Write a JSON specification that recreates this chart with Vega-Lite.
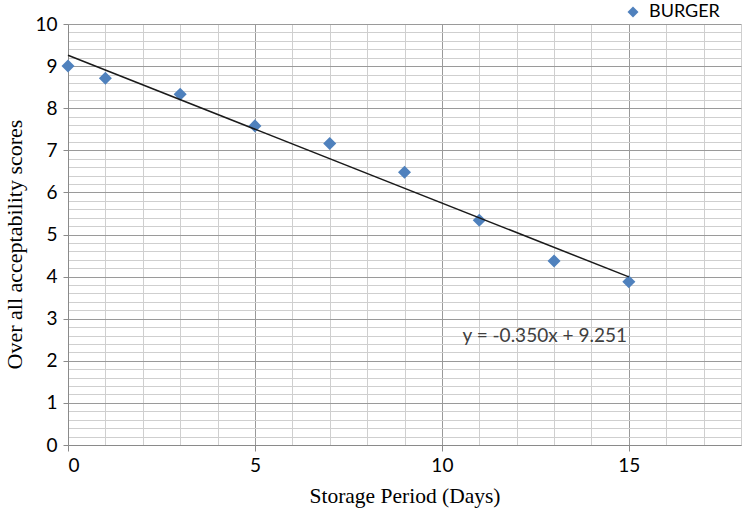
{
  "$schema": "https://vega.github.io/schema/vega-lite/v6.json",
  "autosize": {"type": "none"},
  "width": 673,
  "height": 421,
  "padding": {"left": 68, "top": 24, "right": 1, "bottom": 68},
  "background": "white",
  "config": {"view": {"stroke": null}},
  "datasets": {
    "pts": [
      {"day": 0, "score": 9.0, "series": "BURGER"},
      {"day": 1, "score": 8.71, "series": "BURGER"},
      {"day": 3, "score": 8.33, "series": "BURGER"},
      {"day": 5, "score": 7.58, "series": "BURGER"},
      {"day": 7, "score": 7.16, "series": "BURGER"},
      {"day": 9, "score": 6.48, "series": "BURGER"},
      {"day": 11, "score": 5.34, "series": "BURGER"},
      {"day": 13, "score": 4.37, "series": "BURGER"},
      {"day": 15, "score": 3.88, "series": "BURGER"}
    ]
  },
  "encoding": {
    "x": {
      "field": "day", "type": "quantitative",
      "scale": {"domain": [0, 18], "nice": false, "zero": false},
      "axis": {
        "values": [0,1,2,3,4,5,6,7,8,9,10,11,12,13,14,15,16,17,18],
        "labelExpr": "datum.value % 5 === 0 ? toString(datum.value) : ''",
        "labelOverlap": false,
        "labelFont": "Lato", "labelFontSize": 19, "labelColor": "#000000", "labelPadding": 5,
        "gridColor": {"condition": {"test": "datum.value % 5 === 0", "value": "#9a9a9a"}, "value": "#cfcfcf"},
        "gridWidth": 1,
        "tickColor": {"condition": {"test": "datum.value % 5 === 0", "value": "#8a8a8a"}, "value": "transparent"},
        "tickSize": 6,
        "domainColor": "#8a8a8a",
        "title": "Storage Period (Days)",
        "titleFont": "Liberation Serif", "titleFontSize": 21.5, "titleFontWeight": "normal", "titleColor": "#000000",
        "titlePadding": 10
      }
    },
    "y": {
      "field": "score", "type": "quantitative",
      "scale": {"domain": [0, 10], "nice": false, "zero": true},
      "axis": {
        "values": [0,0.2,0.4,0.6,0.8,1,1.2,1.4,1.6,1.8,2,2.2,2.4,2.6,2.8,3,3.2,3.4,3.6,3.8,4,4.2,4.4,4.6,4.8,5,5.2,5.4,5.6,5.8,6,6.2,6.4,6.6,6.8,7,7.2,7.4,7.6,7.8,8,8.2,8.4,8.6,8.8,9,9.2,9.4,9.6,9.8,10],
        "labelExpr": "abs(datum.value - round(datum.value)) < 0.001 ? toString(round(datum.value)) : ''",
        "labelOverlap": false,
        "labelFont": "Lato", "labelFontSize": 19, "labelColor": "#000000", "labelPadding": 6,
        "gridColor": {"condition": {"test": "abs(datum.value - round(datum.value)) < 0.001", "value": "#9a9a9a"}, "value": "#cfcfcf"},
        "gridWidth": 1,
        "tickColor": {"condition": {"test": "abs(datum.value - round(datum.value)) < 0.001", "value": "#8a8a8a"}, "value": "transparent"},
        "tickSize": 5,
        "domainColor": "#8a8a8a",
        "title": "Over all acceptability scores",
        "titleFont": "Liberation Serif", "titleFontSize": 22, "titleFontWeight": "normal", "titleColor": "#000000",
        "titlePadding": 8, "titleY": 220
      }
    }
  },
  "layer": [
    {
      "data": {"name": "pts"},
      "mark": {"type": "point", "shape": "diamond", "filled": true, "opacity": 1, "size": 170},
      "encoding": {
        "color": {
          "field": "series", "type": "nominal",
          "scale": {"domain": ["BURGER"], "range": ["#4F81BD"]},
          "legend": {
            "title": null, "orient": "none", "legendX": 556, "legendY": -21,
            "symbolType": "diamond", "symbolSize": 120, "symbolStrokeWidth": 0, "symbolOpacity": 1,
            "labelFont": "Lato", "labelFontSize": 18, "labelColor": "#000000", "labelOffset": 7
          }
        }
      }
    },
    {
      "data": {"name": "pts"},
      "transform": [{"regression": "score", "on": "day", "extent": [0, 15]}],
      "mark": {"type": "line", "color": "#1a1a1a", "strokeWidth": 1.5},
      "encoding": {}
    },
    {
      "data": {"values": [{"day": 12.75, "score": 2.6, "label": "y = -0.350x + 9.251"}]},
      "mark": {"type": "text", "font": "Lato", "fontSize": 19, "color": "#404040", "align": "center", "baseline": "middle"},
      "encoding": {
        "text": {"field": "label"}
      }
    }
  ]
}
